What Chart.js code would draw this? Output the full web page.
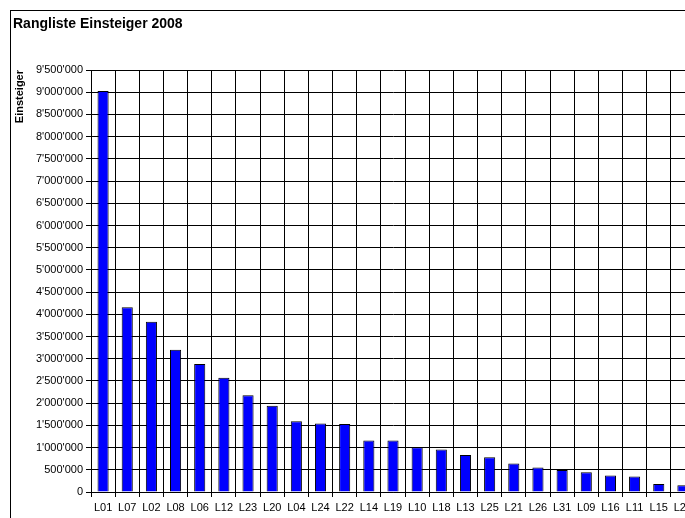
<!DOCTYPE html>
<html>
<head>
<meta charset="utf-8">
<script src="https://cdn.jsdelivr.net/npm/chart.js@4/dist/chart.umd.min.js"></script>
<style>
    html, body { margin: 0; padding: 0; background: #fff; overflow: hidden; }
    #frame { position: absolute; left: 10px; top: 10px; width: 800px; height: 600px; border: 1px solid #000; }
    #wrap { position: absolute; left: 0; top: 0; width: 720px; height: 518px; }
</style>
</head>
<body>
<div id="frame"></div>
<div id="wrap"><canvas id="rangChart"></canvas></div>
<script>
// Linien, sortiert nach Einsteigern
const linien = ["L01", "L07", "L02", "L08", "L06", "L12", "L23", "L20", "L04", "L24", "L22", "L14", "L19",
    "L10", "L18", "L13", "L25", "L21", "L26", "L31", "L09", "L16", "L11", "L15", "L27"];
const einsteiger = [9030000, 4160000, 3830000, 3200000, 2880000, 2570000, 2180000, 1940000, 1590000, 1540000, 1530000,
    1160000, 1160000, 1010000, 955000, 835000, 780000, 640000, 550000, 495000, 445000, 370000, 348000, 180000, 150000];
const yMax = 9500000;
const yStep = 500000;

function formatZahl(v) {
    return String(v).replace(/\B(?=(\d{3})+(?!\d))/g, "'");
}

Chart.defaults.font.family = "'Liberation Sans', Arial, sans-serif";
Chart.defaults.color = "#000";

const ctx = document.getElementById("rangChart").getContext("2d");
new Chart(ctx, {
    type: "bar",
    data: {
        labels: linien,
        datasets: [{
            label: "Einsteiger",
            data: einsteiger,
            backgroundColor: "#0000FF",
            borderColor: "#000",
            borderWidth: 1,
            barPercentage: 0.46,
            categoryPercentage: 1
        }]
    },
    options: {
        responsive: true,
        maintainAspectRatio: false,
        animation: false,
        layout: { padding: { left: 13, right: 25, top: 0, bottom: 0 } },
        scales: {
            x: {
                offset: true,
                grid: { offset: true, color: "#000", tickLength: 5, lineWidth: 1 },
                border: { color: "#000" },
                ticks: { font: { size: 11 }, padding: 4, maxRotation: 0, autoSkip: false },
                afterFit: scale => { scale.height = 26; }
            },
            y: {
                min: 0,
                max: yMax,
                grid: { color: "#000", tickLength: 5, lineWidth: 1 },
                border: { color: "#000" },
                ticks: {
                    stepSize: yStep,
                    font: { size: 11 },
                    padding: 3,
                    callback: v => formatZahl(v)
                },
                title: {
                    display: true,
                    text: "Einsteiger",
                    align: "end",
                    font: { size: 11, weight: "bold" },
                    padding: 0
                },
                afterFit: scale => { scale.width = 78; }
            }
        },
        plugins: {
            legend: { display: false },
            tooltip: { enabled: false },
            title: {
                display: true,
                text: "Rangliste Einsteiger 2008",
                align: "start",
                font: { size: 14, weight: "bold" },
                padding: { top: 15.6, bottom: 37.6 }
            }
        }
    }
});
</script>
</body>
</html>
